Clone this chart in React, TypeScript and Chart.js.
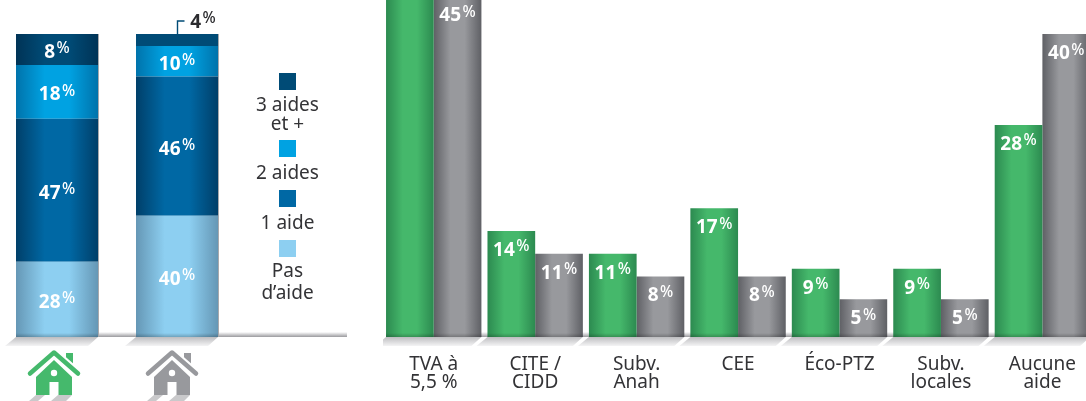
import React, { useEffect, useRef } from "react";
import { Chart, registerables } from "chart.js";

Chart.register(...registerables);

const FONT = '"Noto Sans", sans-serif';
const TEXT = "#333336";

// Left chart: drawn segment heights, printed labels kept separately
const housingTypes = ["Maison verte", "Maison grise"];
const noAid = [24.8, 40];
const oneAid = [47.2, 46];
const twoAids = [17.8, 10];
const threeAids = [10.2, 4];
const noAidLabels = ["28", "40"];
const oneAidLabels = ["47", "46"];
const twoAidsLabels = ["18", "10"];
const threeAidsLabels = ["8", "4"];
const legendLabels = [["3 aides", "et +"], ["2 aides"], ["1 aide"], ["Pas", "d’aide"]];

// Right chart
const aidTypes = [["TVA à", "5,5 %"], ["CITE /", "CIDD"], ["Subv.", "Anah"], ["CEE"], ["Éco-PTZ"], ["Subv.", "locales"], ["Aucune", "aide"]];
const greenValues = [55, 14, 11, 17, 9, 9, 28];
const greyValues = [45, 11, 8, 8, 5, 5, 40];

type Shade = { center: string; edge: string; flatSecond?: boolean };
const shades: Record<string, Shade> = {
  none: { center: "#8dcff1", edge: "#6597b5" },
  one: { center: "#0068a4", edge: "#003f69" },
  two: { center: "#00a2e2", edge: "#0073ab" },
  three: { center: "#004b76", edge: "#003356", flatSecond: true },
  green: { center: "#45b86b", edge: "#2c8a50" },
  grey: { center: "#98999d", edge: "#5f6065" },
};

function hGrad(ctx: CanvasRenderingContext2D, x0: number, x1: number, s: Shade) {
  const g = ctx.createLinearGradient(x0, 0, x1, 0);
  g.addColorStop(0, s.edge);
  g.addColorStop(0.35, s.center);
  g.addColorStop(0.65, s.center);
  g.addColorStop(1, s.edge);
  return g;
}

const gradientBars = {
  id: "gradientBars",
  beforeDatasetsDraw(chart: any) {
    const ctx = chart.ctx;
    chart.data.datasets.forEach((ds: any, i: number) => {
      const s: Shade = ds.shade;
      chart.getDatasetMeta(i).data.forEach((el: any, j: number) => {
        const l = el.x - el.width / 2;
        const r = el.x + el.width / 2;
        const fill = s.flatSecond && j === 1 ? s.center : hGrad(ctx, l, r, s);
        el.options = { ...el.options, backgroundColor: fill, borderWidth: 0 };
      });
    });
  },
};

function strip(ctx: CanvasRenderingContext2D, x0: number, x1: number, base: number) {
  const g = ctx.createLinearGradient(0, base - 5, 0, base);
  g.addColorStop(0, "#ffffff");
  g.addColorStop(1, "#9a9a9e");
  ctx.fillStyle = g;
  ctx.fillRect(x0, base - 5, x1 - x0, 5);
}

function floor(ctx: CanvasRenderingContext2D, x0: number, x1: number, base: number) {
  const g = ctx.createLinearGradient(0, base, 0, base + 9);
  g.addColorStop(0, "#bdbdc0");
  g.addColorStop(1, "#f4f4f5");
  ctx.fillStyle = g;
  ctx.beginPath();
  ctx.moveTo(x0, base);
  ctx.lineTo(x1, base);
  ctx.lineTo(x1 - 10, base + 9);
  ctx.lineTo(x0 - 11, base + 9);
  ctx.closePath();
  ctx.fill();
}

const floorPlugin = {
  id: "floorPlugin",
  beforeDatasetsDraw(chart: any, _a: any, opts: any) {
    const ctx = chart.ctx;
    const base = chart.chartArea.bottom;
    ctx.save();
    const metas = chart.data.datasets.map((_: any, i: number) => chart.getDatasetMeta(i));
    const first = metas[0].data[0];
    strip(ctx, first.x - first.width / 2, opts.stripEnd, base);
    chart.data.labels.forEach((_: any, j: number) => {
      const els = metas.map((m: any) => m.data[j]);
      const l = Math.min(...els.map((e: any) => e.x - e.width / 2));
      const r = Math.max(...els.map((e: any) => e.x + e.width / 2));
      floor(ctx, l, r, base);
    });
    ctx.restore();
  },
  afterDatasetsDraw(chart: any) {
    const ctx = chart.ctx;
    const base = chart.chartArea.bottom;
    ctx.save();
    chart.data.datasets.forEach((_: any, i: number) => {
      chart.getDatasetMeta(i).data.forEach((el: any) => {
        const l = el.x - el.width / 2;
        const g = ctx.createLinearGradient(0, base - 4, 0, base);
        g.addColorStop(0, "rgba(0,0,0,0)");
        g.addColorStop(1, "rgba(0,0,0,0.22)");
        ctx.fillStyle = g;
        if (Math.abs(el.base - base) < 1) ctx.fillRect(l, base - 4, el.width, 4);
      });
    });
    ctx.restore();
  },
};

function valueLabel(ctx: CanvasRenderingContext2D, n: string, cx: number, cy: number, color: string) {
  ctx.fillStyle = color;
  ctx.textBaseline = "alphabetic";
  ctx.textAlign = "left";
  ctx.font = `700 19px ${FONT}`;
  const w = ctx.measureText(n).width;
  ctx.font = `500 15.5px ${FONT}`;
  const p = ctx.measureText("%").width;
  const x = cx - (w + 1.5 + p) / 2;
  ctx.font = `700 19px ${FONT}`;
  ctx.fillText(n, x, cy + 6.5);
  ctx.font = `500 15.5px ${FONT}`;
  ctx.fillText("%", x + w + 1.5, cy + 2);
}

const stackedLabels = {
  id: "stackedLabels",
  afterDatasetsDraw(chart: any) {
    const ctx = chart.ctx;
    ctx.save();
    chart.data.datasets.forEach((ds: any, i: number) => {
      chart.getDatasetMeta(i).data.forEach((el: any, j: number) => {
        const midY = (el.y + el.base) / 2;
        if (ds.shade === shades.three && j === 1) {
          // small segment: leader line and dark label above the bar
          ctx.strokeStyle = "#004b76";
          ctx.lineWidth = 1.4;
          ctx.beginPath();
          ctx.moveTo(el.x + 0.5, el.y);
          ctx.lineTo(el.x + 0.5, el.y - 13);
          ctx.lineTo(el.x + 7.5, el.y - 13);
          ctx.stroke();
          valueLabel(ctx, ds.valueLabels[j], el.x + 26, el.y - 13, "#2b2b2e");
        } else {
          valueLabel(ctx, ds.valueLabels[j], el.x, midY + 2, "#ffffff");
        }
      });
    });
    // thin grey right-hand edge of each stacked column
    const top = chart.getDatasetMeta(chart.data.datasets.length - 1).data;
    top.forEach((el: any) => {
      ctx.fillStyle = "#a9a9ac";
      ctx.fillRect(el.x + el.width / 2, el.y, 1, chart.chartArea.bottom - el.y);
    });
    ctx.restore();
  },
};

function house(ctx: CanvasRenderingContext2D, cx: number, color: string) {
  ctx.save();
  ctx.translate(cx, 0);
  // shadow
  ctx.fillStyle = "#c9c9cb";
  ctx.beginPath();
  ctx.moveTo(-18, 395); ctx.lineTo(-9, 395); ctx.lineTo(-16, 401); ctx.lineTo(-25, 401); ctx.closePath();
  ctx.moveTo(4, 395); ctx.lineTo(18, 395); ctx.lineTo(12, 401); ctx.lineTo(-3, 401); ctx.closePath();
  ctx.fill();
  ctx.fillStyle = color;
  // chimney
  ctx.fillRect(12, 353, 7, 11);
  // white halo under roof
  ctx.lineCap = "round";
  ctx.lineJoin = "round";
  ctx.lineWidth = 8;
  ctx.strokeStyle = "#fff";
  ctx.beginPath(); ctx.moveTo(-24, 373); ctx.lineTo(0, 352); ctx.lineTo(24, 373); ctx.stroke();
  // roof
  ctx.strokeStyle = color;
  ctx.lineWidth = 4.5;
  ctx.beginPath(); ctx.moveTo(-24, 373.5); ctx.lineTo(0, 352.5); ctx.lineTo(24, 373.5); ctx.stroke();
  // body
  ctx.beginPath();
  ctx.moveTo(-18, 377); ctx.lineTo(0, 360); ctx.lineTo(18, 377); ctx.lineTo(18, 395); ctx.lineTo(-18, 395);
  ctx.closePath();
  ctx.fill();
  // door and window
  ctx.fillStyle = "#fff";
  ctx.fillRect(-4.5, 382, 9, 13);
  ctx.beginPath(); ctx.arc(0, 373, 3.2, 0, Math.PI * 2); ctx.fill();
  ctx.restore();
}

const houseIcons = {
  id: "houseIcons",
  afterDraw(chart: any) {
    const x = chart.scales.x;
    house(chart.ctx, x.getPixelForValue(0) - 3, "#45b96c");
    house(chart.ctx, x.getPixelForValue(1) - 5, "#98999d");
  },
};

const customLegend = {
  id: "customLegend",
  afterDraw(chart: any) {
    const ctx = chart.ctx;
    const colors = ["#004b76", "#00a2e2", "#0068a4", "#8dcff1"];
    const squareTops = [76, 143, 193, 243];
    const textOffsets = [30, 30.5, 30.5, 29];
    const cx = 290.5;
    ctx.save();
    legendLabels.forEach((lines, i) => {
      ctx.fillStyle = colors[i];
      ctx.fillRect(cx - 8.5, squareTops[i] - 3, 17, 17);
      ctx.fillStyle = TEXT;
      ctx.font = `400 19px ${FONT}`;
      ctx.textAlign = "center";
      ctx.textBaseline = "middle";
      const first = squareTops[i] + textOffsets[i];
      lines.forEach((t, k) => ctx.fillText(t, cx, first + k * (i === 0 ? 18.5 : 22)));
    });
    ctx.restore();
  },
};

const barLabels = {
  id: "barLabels",
  afterDatasetsDraw(chart: any) {
    const ctx = chart.ctx;
    ctx.save();
    chart.data.datasets.forEach((ds: any, i: number) => {
      chart.getDatasetMeta(i).data.forEach((el: any, j: number) => {
        valueLabel(ctx, String(ds.data[j]), el.x, el.y + 18.5, "#ffffff");
      });
    });
    ctx.restore();
  },
};

export default function App() {
  const leftRef = useRef<HTMLCanvasElement>(null);
  const rightRef = useRef<HTMLCanvasElement>(null);

  useEffect(() => {
    const hiddenY = (max: number) => ({ display: false, min: 0, max, stacked: false });
    const left = new Chart(leftRef.current!, {
      type: "bar",
      data: {
        labels: housingTypes,
        datasets: [
          { label: "Pas d’aide", data: noAid, shade: shades.none, valueLabels: noAidLabels, backgroundColor: shades.none.center },
          { label: "1 aide", data: oneAid, shade: shades.one, valueLabels: oneAidLabels, backgroundColor: shades.one.center },
          { label: "2 aides", data: twoAids, shade: shades.two, valueLabels: twoAidsLabels, backgroundColor: shades.two.center },
          { label: "3 aides et +", data: threeAids, shade: shades.three, valueLabels: threeAidsLabels, backgroundColor: shades.three.center },
        ] as any,
      },
      options: {
        animation: false,
        responsive: false,
        devicePixelRatio: 1,
        layout: { padding: { top: 34, bottom: 64, left: 0, right: 123 } },
        datasets: { bar: { categoryPercentage: 1, barPercentage: 82 / 120 } },
        plugins: { legend: { display: false }, tooltip: { enabled: false }, floorPlugin: { stripEnd: 350 } } as any,
        scales: {
          x: { display: false, stacked: true },
          y: { ...hiddenY(100), stacked: true },
        },
      },
      plugins: [gradientBars, floorPlugin, stackedLabels, houseIcons, customLegend],
    });
    const right = new Chart(rightRef.current!, {
      type: "bar",
      data: {
        labels: aidTypes as any,
        datasets: [
          { label: "Vert", data: greenValues, shade: shades.green, backgroundColor: shades.green.center },
          { label: "Gris", data: greyValues, shade: shades.grey, backgroundColor: shades.grey.center },
        ] as any,
      },
      options: {
        animation: false,
        responsive: false,
        devicePixelRatio: 1,
        layout: { padding: { top: 34, bottom: 0, left: 0, right: 0 } },
        datasets: { bar: { categoryPercentage: 95.5 / 101.57, barPercentage: 1, clip: false } as any },
        plugins: { legend: { display: false }, tooltip: { enabled: false }, floorPlugin: { stripEnd: 1100 } } as any,
        scales: {
          x: {
            grid: { display: false, drawTicks: false },
            border: { display: false },
            ticks: { color: TEXT, font: { family: FONT, size: 19, lineHeight: 0.97 }, padding: 18, maxRotation: 0, autoSkip: false },
            afterFit(scale: any) { scale.height = 64; },
          },
          y: hiddenY(40),
        },
      },
      plugins: [gradientBars, floorPlugin, barLabels],
    });
    return () => { left.destroy(); right.destroy(); };
  }, []);

  return (
    <div style={{ position: "fixed", left: 0, top: 0, width: 1086, height: 401, overflow: "hidden", background: "#fff" }}>
      <canvas ref={leftRef} width={363} height={401} style={{ position: "absolute", left: -3, top: 0, display: "block" }} />
      <canvas ref={rightRef} width={711} height={401} style={{ position: "absolute", left: 383, top: 0, display: "block" }} />
    </div>
  );
}
